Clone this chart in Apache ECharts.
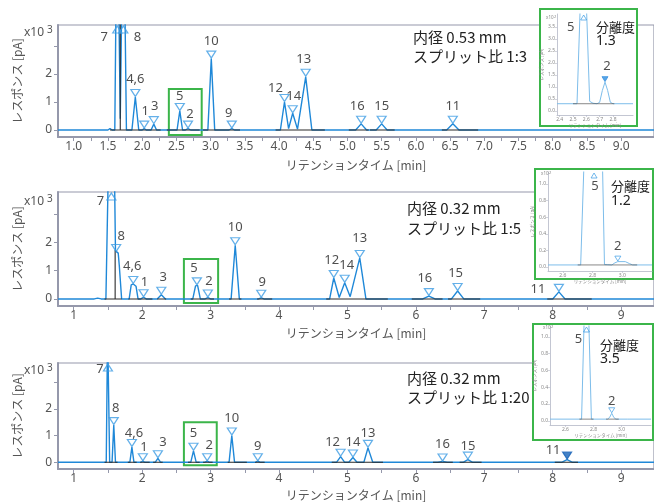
<!DOCTYPE html>
<html>
<head>
<meta charset="utf-8">
<script src="https://cdn.jsdelivr.net/npm/echarts@6/dist/echarts.min.js"></script>
<style>
html, body { margin: 0; padding: 0; background: #fff; }
#chart { width: 654px; height: 502px; }
</style>
</head>
<body>
<div id="chart"></div>
<script>
// ---------------- Data ----------------
// Peak numbers in elution order
const peakLabels = ['7', '8', '4,6', '1', '3', '5', '2', '10', '9', '12', '14', '13', '16', '15', '11'];

// i.d. 0.53 mm, split 1:3 : detector trace [retention time (min), response (x10^3 pA)]
const trace053 = [[0.77,0],[1.50,0],[1.53,0.05],[1.56,0],[1.60,0],[1.635,9],[1.68,0.4],[1.725,9],[1.77,0],[1.85,0],[1.90,1.18],[1.95,0],[2.00,0],[2.03,0.05],[2.06,0],[2.13,0],[2.17,0.21],[2.21,0],[2.51,0],[2.55,0.68],[2.59,0],[2.63,0],[2.67,0.05],[2.71,0],[2.96,0],[3.01,2.55],[3.06,0],[3.27,0],[3.31,0.05],[3.35,0],[4.02,0],[4.08,1.0],[4.14,0.05],[4.20,0.6],[4.27,0.03],[4.39,1.9],[4.48,0],[5.12,0],[5.20,0.22],[5.28,0],[5.42,0],[5.50,0.22],[5.58,0],[6.45,0],[6.54,0.22],[6.63,0],[9.48,0]];
const apexTime053 = [1.635,1.725,1.90,2.03,2.17,2.55,2.67,3.01,3.31,4.08,4.20,4.39,5.20,5.50,6.54];
const apexHeight053 = [9,9,1.18,0.05,0.21,0.68,0.05,2.55,0.05,1.0,0.6,1.9,0.22,0.22,0.22];
const baseline053 = [[1.53,2.27],[2.36,2.84],[2.89,3.43],[3.95,4.67],[5.02,5.31],[5.33,5.69],[6.38,6.91]];
const dropLine053 = [[1.68,9]];
const zoomBox053 = [[2.39,1.46],[2.87,-0.18]];

// i.d. 0.32 mm, split 1:5
const trace032s5 = [[0.77,0],[1.30,0],[1.35,0.03],[1.40,0],[1.47,0],[1.505,4.5],[1.595,4.5],[1.61,1.7],[1.65,1.62],[1.665,1.2],[1.70,0],[1.81,0],[1.84,0.5],[1.87,0.53],[1.91,0.45],[1.94,0],[1.98,0],[2.02,0.06],[2.06,0],[2.22,0],[2.28,0.15],[2.34,0],[2.74,0],[2.78,0.46],[2.81,0.48],[2.85,0],[2.92,0],[2.96,0.05],[3.00,0],[3.30,0],[3.36,1.9],[3.42,0],[3.70,0],[3.74,0.04],[3.78,0],[4.74,0],[4.80,0.74],[4.88,0.05],[4.96,0.57],[5.04,0.08],[5.18,1.45],[5.27,0],[6.10,0],[6.19,0.1],[6.28,0],[6.52,0],[6.61,0.28],[6.70,0],[8.00,0],[8.09,0.25],[8.18,0],[9.48,0]];
const apexTime032s5 = [1.55,1.62,1.87,2.02,2.28,2.80,2.96,3.36,3.74,4.80,4.96,5.18,6.19,6.61,8.09];
const apexHeight032s5 = [6,1.66,0.53,0.06,0.15,0.48,0.05,1.9,0.04,0.74,0.57,1.45,0.1,0.28,0.25];
const baseline032s5 = [[1.45,1.70],[1.80,2.15],[2.22,2.35],[2.71,3.05],[3.27,3.45],[3.68,3.90],[4.69,5.59],[5.94,6.39],[6.47,6.94],[7.92,8.57]];
const dropLine032s5 = [[1.605,1.72]];
const zoomBox032s5 = [[2.61,1.41],[3.11,-0.14]];

// i.d. 0.32 mm, split 1:20
const trace032s20 = [[0.77,0],[1.31,0],[1.335,0.03],[1.36,0],[1.38,0.03],[1.40,0],[1.475,0],[1.495,5],[1.51,5],[1.525,0],[1.56,0],[1.585,1.39],[1.61,0],[1.82,0],[1.85,0.57],[1.88,0],[1.98,0],[2.01,0.04],[2.04,0],[2.19,0],[2.23,0.15],[2.27,0],[2.71,0],[2.75,0.43],[2.79,0],[2.91,0],[2.95,0.04],[2.99,0],[3.27,0],[3.31,1.0],[3.35,0],[3.65,0],[3.69,0.04],[3.73,0],[4.84,0],[4.90,0.21],[4.96,0],[5.02,0],[5.08,0.18],[5.14,0],[5.24,0],[5.30,0.54],[5.37,0],[6.32,0],[6.39,0.03],[6.46,0],[6.69,0],[6.76,0.1],[6.83,0],[8.13,0],[8.21,0.1],[8.29,0],[9.48,0]];
const apexTime032s20 = [1.50,1.585,1.85,2.01,2.23,2.75,2.95,3.31,3.69,4.90,5.08,5.30,6.39,6.76,8.21];
const apexHeight032s20 = [5,1.39,0.57,0.04,0.15,0.43,0.04,1.0,0.04,0.21,0.18,0.54,0.03,0.1,0.1];
const baseline032s20 = [[1.45,1.64],[1.79,1.92],[1.97,2.11],[2.16,2.30],[2.67,2.84],[2.89,3.03],[3.25,3.53],[3.65,3.79],[4.77,4.99],[4.99,5.21],[5.18,5.52],[6.25,6.54],[6.64,6.96],[8.03,8.37]];
const dropLine032s20 = [];
const zoomBox032s20 = [[2.61,1.5],[3.09,-0.11]];

// Axis tick labels
const xLabels053 = [1.0,1.5,2.0,2.5,3.0,3.5,4.0,4.5,5.0,5.5,6.0,6.5,7.0,7.5,8.0,8.5,9.0];
const xLabels032 = [1,2,3,4,5,6,7,8,9];
const yLabelsMain = [0,1,2];

// Enlarged views of peaks 5 and 2 [retention time (min), response (x10^2 pA)]
const insetLabels = ['5', '2'];
const insetTrace053 = [[2.38,0.3],[2.53,0.3],[2.555,4.5],[2.60,4.5],[2.625,0.4],[2.65,0.32],[2.68,0.3],[2.70,0.36],[2.72,0.85],[2.74,1.2],[2.76,0.85],[2.78,0.36],[2.80,0.3],[2.86,0.3],[2.875,0.36],[2.89,0.3],[2.95,0.3]];
const insetApexTime053 = [2.58, 2.74];
const insetApexHeight053 = [4.5, 1.2];
const insetBase053 = [[2.50,2.68],[2.68,2.81]];
const insetXLabels053 = [2.4,2.5,2.6,2.7,2.8];
const insetYLabels053 = [0,0.5,1.0,1.5,2.0,2.5,3.0,3.5];

const insetTrace032s5 = [[2.50,0.025],[2.72,0.025],[2.745,1.4],[2.865,1.4],[2.88,0.03],[2.93,0.025],[2.95,0.05],[2.97,0.065],[3.02,0.065],[3.05,0.04],[3.07,0.025],[3.20,0.025]];
const insetApexTime032s5 = [2.81, 2.97];
const insetApexHeight032s5 = [1.4, 0.065];
const insetBase032s5 = [[2.70,2.90],[2.90,3.10]];

const insetTrace032s20 = [[2.49,0.02],[2.715,0.02],[2.735,1.3],[2.765,1.3],[2.785,0.02],[2.90,0.02],[2.915,0.04],[2.93,0.09],[2.945,0.04],[2.96,0.02],[3.04,0.02],[3.05,0.03],[3.06,0.02],[3.21,0.02]];
const insetApexTime032s20 = [2.75, 2.93];
const insetApexHeight032s20 = [1.3, 0.09];
const insetBase032s20 = [[2.70,2.80],[2.89,2.98]];

const insetXLabels032 = [2.6,2.8,3.0];
const insetYLabels032 = [0,0.2,0.4,0.6,0.8,1.0];

// Run conditions and resolution of peaks 5/2
const conditions = [['内径 0.53 mm','スプリット比 1:3'],['内径 0.32 mm','スプリット比 1:5'],['内径 0.32 mm','スプリット比 1:20']];
const resolutions = ['1.3','1.2','3.5'];

// ---------------- Styles & layout ----------------
const FONT = "'Noto Sans', 'Noto Sans CJK JP', sans-serif";
const JP = "'Noto Sans CJK JP', 'Noto Sans', sans-serif";
const AXIS = '#9598ab';
const INSET_AXIS = '#b4b7c6';
const TEXT = '#555';
const BLUE = '#1f88d8';
const INSET_BLUE = '#7dbdea';
const MARK = '#3d9ce4';
const GREEN = '#3bb54a';
const X_RANGE = [0.77, 9.48];

const mainLayout = [
  { top: 25, height: 112, yMax: 3.75, xNameGap: 22, expY: 33, noteX: 413, noteY: [37, 56],
    offsets: [[-13,21],[14,21],[0,0],[1,0],[1,0],[0,3],[2,3],[0,0],[-3,2],[-9,4],[1,1],[-2,0],[-4,0],[0,0],[0,0]] },
  { top: 192, height: 114, yMax: 3.78, xNameGap: 21, expY: 202, noteX: 407, noteY: [208, 228],
    offsets: [[-11,18],[5,2],[-1,0],[1,3],[2,0],[-3,0],[1,1],[0,0],[1,2],[-2,0],[2,0],[0,-2],[-4,0],[-2,0],[-21,15]] },
  { top: 363, height: 111, yMax: 3.71, xNameGap: 20, expY: 371, noteX: 407, noteY: [378, 397],
    offsets: [[-8,15],[2,1],[2,4],[1,4],[5,2],[0,0],[2,2],[0,0],[0,3],[-8,3],[0,2],[0,3],[0,0],[0,4],[-14,8]] }
];

const insetLayout = [
  { frame: {x:540,y:9,width:97,height:117}, plot: {left:557,top:14,width:76,height:101}, yRange: [-0.17,4.04], xRange: [2.38,2.95],
    yNameGap: 12, xNameGap: 7, exp: [546,18], note: [596,27,41], offsets: [[-13,22],[2,0]], filled: [false,true] },
  { frame: {x:535,y:169,width:118,height:110}, plot: {left:548,top:172,width:104,height:99}, yRange: [-0.048,1.145], xRange: [2.50,3.20],
    yNameGap: 7, xNameGap: 7, exp: [541,174], note: [611,186,201], offsets: [[1,23],[0,0]], filled: [false,false] },
  { frame: {x:533,y:324,width:120,height:116}, plot: {left:550,top:326,width:101,height:99}, yRange: [-0.05,1.13], xRange: [2.49,3.21],
    yNameGap: 8, xNameGap: 7, exp: [543,328], note: [600,345,359], offsets: [[-8,22],[0,3]], filled: [false,false] }
];

// ---------------- Builders ----------------
const grid = [], xAxis = [], yAxis = [], series = [], graphic = [];

function segmentData(pairs, drops, level) {
  const out = [];
  pairs.forEach(p => { out.push([p[0], level], [p[1], level], [p[1], '-']); });
  (drops || []).forEach(d => { out.push([d[0], level], [d[0], d[1]], [d[0], '-']); });
  return out;
}

function markerData(labels, times, heights, yMax, offsets, filled, size) {
  return labels.map((lab, k) => {
    const over = heights[k] > yMax;
    const item = {
      name: lab,
      value: [times[k], over ? yMax : heights[k]],
      symbolRotate: over ? 0 : 180,
      symbolOffset: over ? [0, size[1] / 2 + 1] : [0, -size[1] / 2 - 0.5],
      label: { offset: offsets[k] || [0, 0] }
    };
    if (filled && filled[k]) item.itemStyle = { color: '#1763b8', borderColor: '#1763b8' };
    return item;
  });
}

function addMain(idx, lay, d) {
  grid.push({ left: 58, top: lay.top, width: 600, height: lay.height, show: true,
    borderColor: AXIS, borderWidth: 1.2, backgroundColor: 'transparent' });
  const ticks = [];
  d.xLabels.forEach((v, k) => { ticks.push(v); if (k < d.xLabels.length - 1) ticks.push((v + d.xLabels[k + 1]) / 2); });
  xAxis.push({
    gridIndex: idx, type: 'value', min: X_RANGE[0], max: X_RANGE[1],
    axisLine: { show: true, onZero: false, lineStyle: { color: AXIS, width: 2 } },
    axisTick: { show: true, customValues: ticks, length: 4, lineStyle: { color: AXIS, width: 1 } },
    axisLabel: { customValues: d.xLabels, formatter: v => d.decimals ? v.toFixed(1) : String(v),
      color: TEXT, fontSize: 12, fontFamily: FONT, margin: 4 },
    splitLine: { show: false },
    name: 'リテンションタイム [min]', nameLocation: 'middle', nameGap: lay.xNameGap,
    nameTextStyle: { color: TEXT, fontSize: 12, fontFamily: JP }
  });
  yAxis.push({
    gridIndex: idx, type: 'value', min: -0.25, max: lay.yMax,
    axisLine: { show: true, onZero: false, lineStyle: { color: AXIS, width: 2 } },
    axisTick: { show: true, customValues: [0, 1, 2, 3], length: 4, lineStyle: { color: AXIS } },
    axisLabel: { customValues: yLabelsMain, color: TEXT, fontSize: 12, fontFamily: FONT, margin: 6 },
    splitLine: { show: false },
    name: 'レスポンス [pA]', nameLocation: 'middle', nameGap: 35,
    nameTextStyle: { color: TEXT, fontSize: 12, fontFamily: JP }
  });
  series.push({
    type: 'line', xAxisIndex: idx, yAxisIndex: idx, data: d.trace, symbol: 'none', silent: true, z: 3,
    lineStyle: { color: BLUE, width: 1.4 },
    markArea: { silent: true, itemStyle: { color: 'rgba(0,0,0,0)', borderColor: GREEN, borderWidth: 2 },
      data: [[{ coord: d.box[0] }, { coord: d.box[1] }]] }
  });
  series.push({
    type: 'line', xAxisIndex: idx, yAxisIndex: idx, data: segmentData(d.base, d.drops, 0),
    symbol: 'none', silent: true, z: 4, lineStyle: { color: '#2a2a2a', width: 1.1 }
  });
  series.push({
    type: 'scatter', xAxisIndex: idx, yAxisIndex: idx, silent: true, z: 5, clip: false,
    data: markerData(peakLabels, d.times, d.heights, lay.yMax, lay.offsets, d.filled, [9, 7]),
    symbol: 'triangle', symbolSize: [9, 7],
    itemStyle: { color: 'rgba(255,255,255,0)', borderColor: MARK, borderWidth: 1.2 },
    label: { show: true, position: 'top', distance: 3, formatter: p => p.name,
      color: '#222', fontSize: 13, fontFamily: FONT }
  });
  graphic.push(
    { type: 'text', x: 24, y: lay.expY, z: 20, style: { text: 'x10', fill: TEXT, fontSize: 12, fontFamily: FONT, align: 'left', verticalAlign: 'middle' } },
    { type: 'text', x: 47, y: lay.expY - 3, z: 20, style: { text: '3', fill: TEXT, fontSize: 10, fontFamily: FONT, align: 'left', verticalAlign: 'middle' } },
    { type: 'text', x: lay.noteX, y: lay.noteY[0], z: 20, style: { text: d.note[0], fill: '#222', fontSize: 15, fontFamily: JP, align: 'left', verticalAlign: 'middle' } },
    { type: 'text', x: lay.noteX, y: lay.noteY[1], z: 20, style: { text: d.note[1], fill: '#222', fontSize: 15, fontFamily: JP, align: 'left', verticalAlign: 'middle' } }
  );
}

function addInset(idx, lay, d) {
  graphic.push({ type: 'rect', z: 10, shape: lay.frame, style: { fill: '#fff', stroke: GREEN, lineWidth: 2 } });
  grid.push({ left: lay.plot.left, top: lay.plot.top, width: lay.plot.width, height: lay.plot.height, show: false });
  xAxis.push({
    gridIndex: idx, type: 'value', min: lay.xRange[0], max: lay.xRange[1], z: 11,
    axisLine: { show: true, onZero: false, lineStyle: { color: INSET_AXIS, width: 0.8 } },
    axisTick: { show: true, customValues: d.xLabels, length: 2, lineStyle: { color: INSET_AXIS, width: 0.6 } },
    axisLabel: { customValues: d.xLabels, formatter: v => v.toFixed(1), color: '#888', fontSize: 5, fontFamily: FONT, margin: 2 },
    splitLine: { show: false },
    name: 'リテンションタイム [min]', nameLocation: 'middle', nameGap: lay.xNameGap,
    nameTextStyle: { color: '#888', fontSize: 4.5, fontFamily: JP }
  });
  yAxis.push({
    gridIndex: idx, type: 'value', min: lay.yRange[0], max: lay.yRange[1], z: 11,
    axisLine: { show: true, onZero: false, lineStyle: { color: INSET_AXIS, width: 0.8 } },
    axisTick: { show: true, customValues: d.yLabels, length: 2, lineStyle: { color: INSET_AXIS, width: 0.6 } },
    axisLabel: { customValues: d.yLabels, formatter: v => v.toFixed(1), color: '#888', fontSize: 5, fontFamily: FONT, margin: 2 },
    splitLine: { show: false },
    name: 'レスポンス [pA]', nameLocation: 'middle', nameGap: lay.yNameGap,
    nameTextStyle: { color: '#888', fontSize: 4.5, fontFamily: JP }
  });
  const level = d.trace[0][1];
  series.push({
    type: 'line', xAxisIndex: idx, yAxisIndex: idx, data: d.trace, symbol: 'none', silent: true, z: 12,
    lineStyle: { color: INSET_BLUE, width: 1 }
  });
  series.push({
    type: 'line', xAxisIndex: idx, yAxisIndex: idx, data: segmentData(d.base, [], level),
    symbol: 'none', silent: true, z: 13, lineStyle: { color: '#555', width: 0.7 }
  });
  series.push({
    type: 'scatter', xAxisIndex: idx, yAxisIndex: idx, silent: true, z: 14, clip: false,
    data: markerData(insetLabels, d.times, d.heights, lay.yRange[1], lay.offsets, lay.filled, [6, 5]).map((it, k) => {
      if (lay.filled[k]) it.itemStyle = { color: '#2f8ee0', borderColor: '#2f8ee0' };
      return it;
    }),
    symbol: 'triangle', symbolSize: [6, 5],
    itemStyle: { color: 'rgba(255,255,255,0)', borderColor: MARK, borderWidth: 0.9 },
    label: { show: true, position: 'top', distance: 3, formatter: p => p.name,
      color: '#222', fontSize: 13, fontFamily: FONT }
  });
  graphic.push(
    { type: 'text', x: lay.exp[0], y: lay.exp[1], z: 20, style: { text: 'x10', fill: '#888', fontSize: 4.5, fontFamily: FONT, align: 'left', verticalAlign: 'middle' } },
    { type: 'text', x: lay.exp[0] + 8, y: lay.exp[1] - 1, z: 20, style: { text: '2', fill: '#888', fontSize: 4, fontFamily: FONT, align: 'left', verticalAlign: 'middle' } },
    { type: 'text', x: lay.note[0], y: lay.note[1], z: 20, style: { text: '分離度', fill: '#222', fontSize: 13, fontFamily: JP, align: 'left', verticalAlign: 'middle' } },
    { type: 'text', x: lay.note[0], y: lay.note[2], z: 20, style: { text: d.resolution, fill: '#222', fontSize: 14, fontFamily: FONT, align: 'left', verticalAlign: 'middle' } }
  );
}

const mainData = [
  { trace: trace053, times: apexTime053, heights: apexHeight053, base: baseline053, drops: dropLine053, box: zoomBox053, xLabels: xLabels053, decimals: true, note: conditions[0] },
  { trace: trace032s5, times: apexTime032s5, heights: apexHeight032s5, base: baseline032s5, drops: dropLine032s5, box: zoomBox032s5, xLabels: xLabels032, decimals: false, note: conditions[1] },
  { trace: trace032s20, times: apexTime032s20, heights: apexHeight032s20, base: baseline032s20, drops: dropLine032s20, box: zoomBox032s20, xLabels: xLabels032, decimals: false, note: conditions[2],
    filled: peakLabels.map(l => l === '11') }
];
const insetData = [
  { trace: insetTrace053, times: insetApexTime053, heights: insetApexHeight053, base: insetBase053, xLabels: insetXLabels053, yLabels: insetYLabels053, resolution: resolutions[0] },
  { trace: insetTrace032s5, times: insetApexTime032s5, heights: insetApexHeight032s5, base: insetBase032s5, xLabels: insetXLabels032, yLabels: insetYLabels032, resolution: resolutions[1] },
  { trace: insetTrace032s20, times: insetApexTime032s20, heights: insetApexHeight032s20, base: insetBase032s20, xLabels: insetXLabels032, yLabels: insetYLabels032, resolution: resolutions[2] }
];

mainData.forEach((d, i) => addMain(i, mainLayout[i], d));
insetData.forEach((d, i) => addInset(3 + i, insetLayout[i], d));

const chart = echarts.init(document.getElementById('chart'), null, { renderer: 'canvas' });
chart.setOption({
  animation: false,
  backgroundColor: '#fff',
  textStyle: { fontFamily: FONT },
  grid, xAxis, yAxis, series, graphic
});
</script>
</body>
</html>
